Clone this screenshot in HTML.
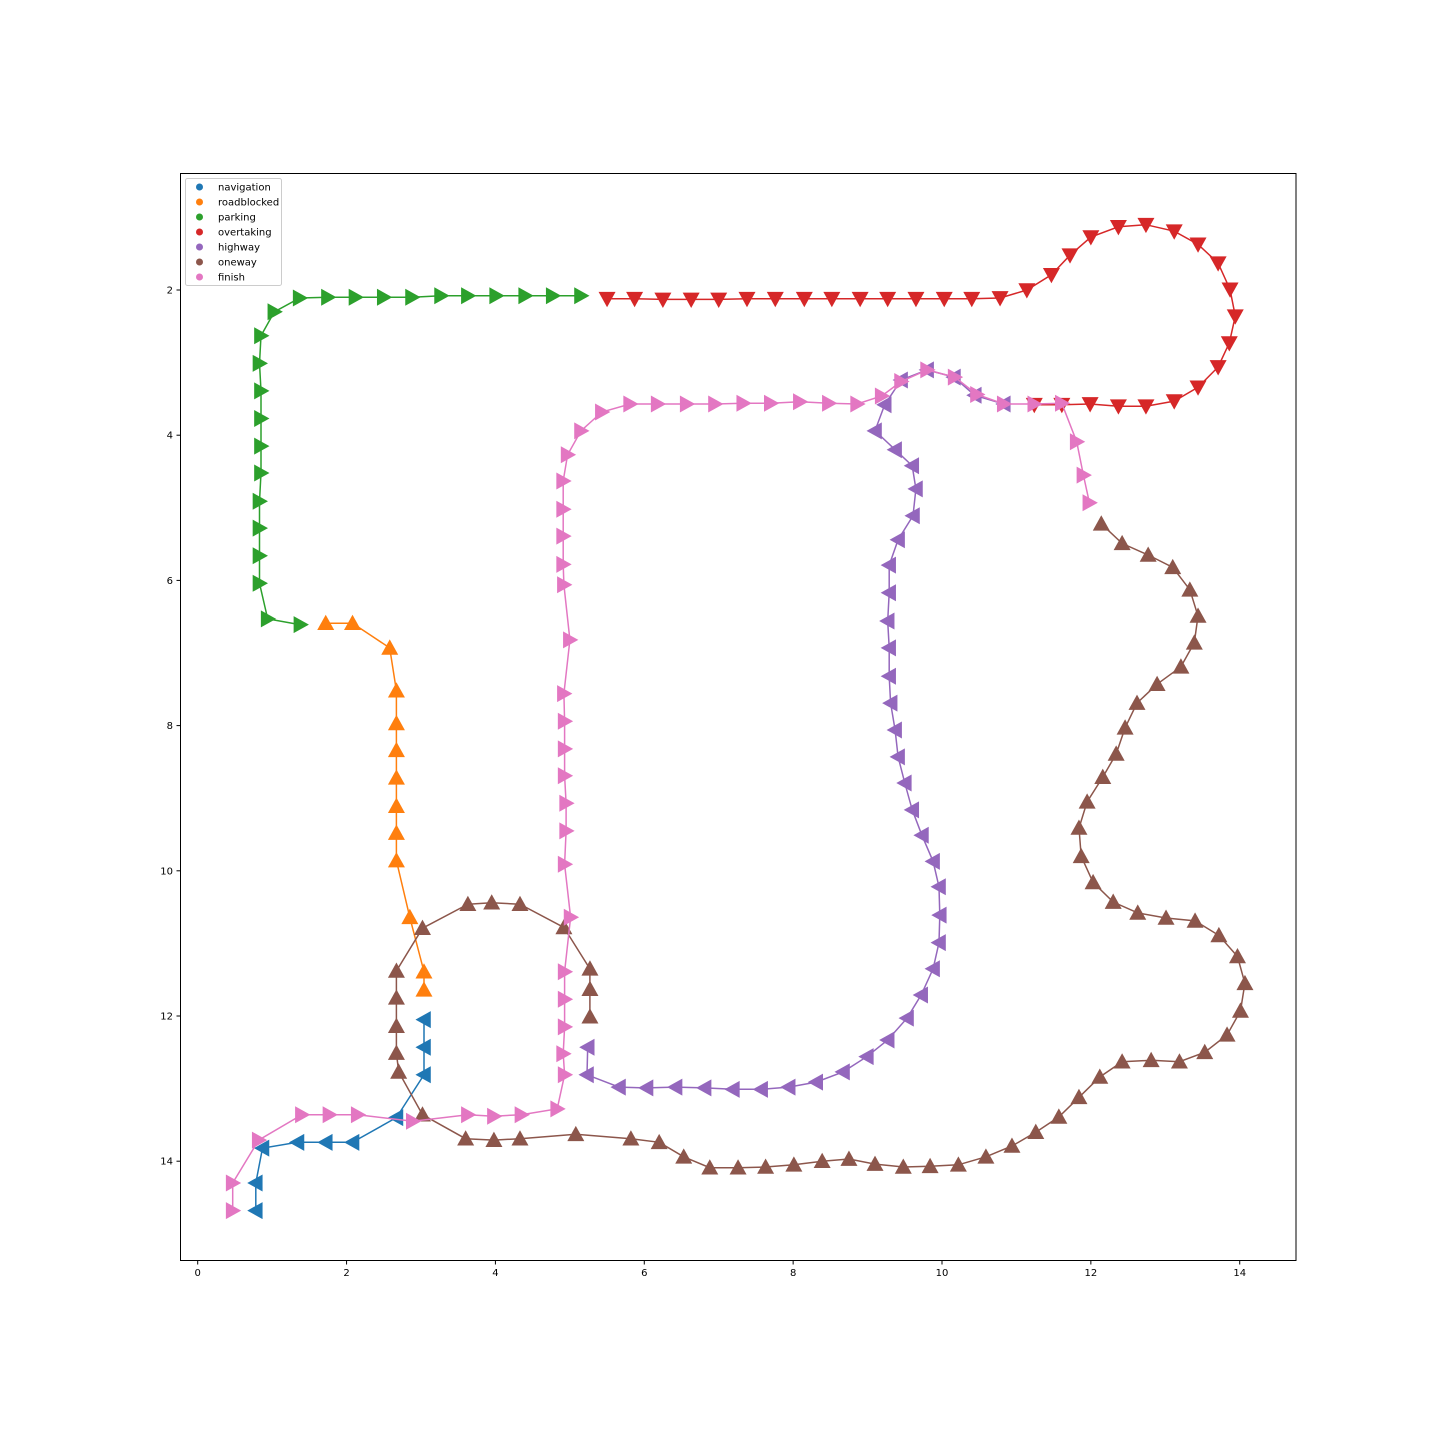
<!DOCTYPE html>
<html><head><meta charset="utf-8"><style>
html,body{margin:0;padding:0;background:#fff;width:1440px;height:1440px;overflow:hidden}
svg{display:block}
text{font-family:"DejaVu Sans","Liberation Sans",sans-serif;font-size:10px;fill:#000}
</style></head><body>
<svg id="chart" width="1440" height="1440" xmlns="http://www.w3.org/2000/svg">
<rect x="0" y="0" width="1440" height="1440" fill="#fff"/>
<g id="series"></g>
<rect x="180.5" y="173.5" width="1115.5" height="1087" fill="none" stroke="#000" stroke-width="1"/>
<g id="axes"></g>
<g id="legend"></g>
</svg>
<script>
const seriesNames = ["navigation","roadblocked","parking","overtaking","highway","oneway","finish"];
const seriesColors = ["#1f77b4","#ff7f0e","#2ca02c","#d62728","#9467bd","#8c564b","#e377c2"];
const seriesMarkers = ["<","^",">","v","<","^",">"];
const navX = [3.04,3.04,3.04,2.67,2.08,1.72,1.34,0.87,0.78,0.78];
const navY = [12.05,12.43,12.81,13.40,13.74,13.74,13.74,13.82,14.30,14.68];
const roadX = [1.72,2.08,2.58,2.67,2.67,2.67,2.67,2.67,2.67,2.67,2.85,3.04,3.04];
const roadY = [6.59,6.59,6.93,7.52,7.97,8.34,8.72,9.11,9.48,9.86,10.64,11.39,11.64];
const parkX = [1.38,0.94,0.83,0.83,0.83,0.83,0.85,0.85,0.85,0.85,0.83,0.85,1.03,1.37,1.75,2.12,2.50,2.88,3.27,3.63,4.01,4.40,4.77,5.15];
const parkY = [6.61,6.53,6.04,5.66,5.28,4.91,4.52,4.15,3.77,3.39,3.01,2.63,2.30,2.11,2.10,2.10,2.10,2.10,2.08,2.08,2.08,2.08,2.08,2.08];
const overX = [5.50,5.87,6.25,6.63,7.00,7.38,7.76,8.15,8.52,8.90,9.27,9.65,10.03,10.40,10.78,11.14,11.47,11.72,12.00,12.37,12.74,13.12,13.44,13.71,13.87,13.94,13.86,13.71,13.44,13.12,12.74,12.37,11.99,11.61,11.24];
const overY = [2.12,2.12,2.13,2.13,2.13,2.12,2.12,2.12,2.12,2.12,2.12,2.12,2.12,2.12,2.11,2.00,1.79,1.52,1.27,1.13,1.10,1.19,1.37,1.63,1.99,2.36,2.73,3.06,3.34,3.53,3.60,3.60,3.57,3.58,3.58];
const hwX = [10.83,10.44,10.16,9.80,9.45,9.23,9.10,9.37,9.60,9.65,9.61,9.41,9.29,9.29,9.27,9.29,9.29,9.31,9.37,9.41,9.50,9.60,9.73,9.88,9.96,9.97,9.96,9.88,9.72,9.53,9.27,8.99,8.67,8.31,7.94,7.57,7.19,6.81,6.42,6.03,5.66,5.23,5.24];
const hwY = [3.57,3.45,3.20,3.10,3.24,3.58,3.94,4.20,4.42,4.74,5.11,5.44,5.79,6.17,6.56,6.93,7.32,7.69,8.06,8.43,8.79,9.16,9.51,9.87,10.22,10.61,10.99,11.35,11.71,12.03,12.33,12.56,12.77,12.91,12.98,13.01,13.01,12.99,12.98,12.99,12.98,12.81,12.43];
const owX = [5.27,5.27,5.27,4.92,4.33,3.95,3.63,3.02,2.67,2.67,2.67,2.67,2.70,3.02,3.60,3.98,4.33,5.08,5.82,6.20,6.53,6.88,7.26,7.63,8.01,8.39,8.75,9.10,9.48,9.84,10.22,10.59,10.94,11.26,11.57,11.84,12.12,12.42,12.81,13.19,13.53,13.83,14.01,14.07,13.97,13.72,13.40,13.01,12.63,12.30,12.03,11.87,11.84,11.95,12.16,12.34,12.46,12.62,12.89,13.21,13.39,13.44,13.33,13.10,12.77,12.42,12.14];
const owY = [12.01,11.63,11.35,10.78,10.46,10.44,10.46,10.79,11.38,11.75,12.14,12.51,12.77,13.36,13.69,13.71,13.69,13.63,13.69,13.74,13.94,14.09,14.09,14.08,14.05,14.00,13.97,14.04,14.08,14.07,14.05,13.94,13.79,13.60,13.39,13.12,12.84,12.63,12.61,12.63,12.50,12.26,11.93,11.55,11.18,10.89,10.69,10.65,10.58,10.43,10.16,9.80,9.41,9.05,8.71,8.39,8.03,7.69,7.43,7.19,6.86,6.49,6.13,5.82,5.65,5.49,5.22];
const finX = [11.98,11.90,11.81,11.61,11.24,10.83,10.47,10.17,9.80,9.45,9.19,8.86,8.48,8.09,7.70,7.33,6.95,6.57,6.18,5.81,5.43,5.15,4.97,4.91,4.91,4.91,4.91,4.92,5.00,4.92,4.93,4.93,4.93,4.95,4.95,4.93,5.01,4.93,4.93,4.93,4.91,4.93,4.83,4.35,3.98,3.63,2.89,2.15,1.77,1.40,0.82,0.47,0.47];
const finY = [4.93,4.55,4.09,3.56,3.57,3.57,3.44,3.20,3.10,3.26,3.46,3.57,3.56,3.54,3.56,3.56,3.57,3.57,3.57,3.57,3.68,3.94,4.27,4.63,5.02,5.39,5.78,6.06,6.82,7.56,7.94,8.32,8.69,9.07,9.45,9.91,10.64,11.39,11.77,12.15,12.52,12.81,13.28,13.36,13.38,13.36,13.45,13.36,13.36,13.36,13.71,14.30,14.68];
const seriesX = [navX,roadX,parkX,overX,hwX,owX,finX];
const seriesY = [navY,roadY,parkY,overY,hwY,owY,finY];
const xTicks = [0,2,4,6,8,10,12,14];
const yTicks = [2,4,6,8,10,12,14];

const NS="http://www.w3.org/2000/svg";
function sx(v){return 197.7+v*74.43;}
function sy(v){return 144.8+v*72.6;}
function mk(tag,attrs,parent){const e=document.createElementNS(NS,tag);for(const k in attrs)e.setAttribute(k,attrs[k]);parent.appendChild(e);return e;}
function tri(cx,cy,m,s){
  if(m==="^")return `${cx},${cy-s} ${cx-s},${cy+s*0.8} ${cx+s},${cy+s*0.8}`;
  if(m==="v")return `${cx},${cy+s} ${cx-s},${cy-s*0.8} ${cx+s},${cy-s*0.8}`;
  if(m==="<")return `${cx-s},${cy} ${cx+s*0.8},${cy-s} ${cx+s*0.8},${cy+s}`;
  return `${cx+s},${cy} ${cx-s*0.8},${cy-s} ${cx-s*0.8},${cy+s}`;
}
const g=document.getElementById('series');
for(let i=0;i<seriesNames.length;i++){
  const sg=mk('g',{},g);
  
  
  const pts=seriesX[i].map((x,j)=>sx(x).toFixed(1)+','+sy(seriesY[i][j]).toFixed(1)).join(' ');
  const pl=mk('polyline',{points:pts,fill:'none',stroke:seriesColors[i],'stroke-width':1.5},sg);
  
  
  for(let j=0;j<seriesX[i].length;j++){
    const p=mk('polygon',{points:tri(sx(seriesX[i][j]),sy(seriesY[i][j]),seriesMarkers[i],8.5),fill:seriesColors[i]},sg);
    
    
  }
}
const ax=document.getElementById('axes');
xTicks.forEach(t=>{
  const l=mk('line',{x1:sx(t),x2:sx(t),y1:1260.5,y2:1264.5,stroke:'#000'},ax);
  
  
  const tx=mk('text',{x:sx(t),y:1276,'text-anchor':'middle'},ax);tx.textContent=t;
  
  
});
yTicks.forEach(t=>{
  const l=mk('line',{x1:176.5,x2:180.5,y1:sy(t),y2:sy(t),stroke:'#000'},ax);
  
  
  const tx=mk('text',{x:173,y:sy(t)+3.5,'text-anchor':'end'},ax);tx.textContent=t;
  
  
});
const lg=document.getElementById('legend');
const box=mk('rect',{x:185.5,y:178.5,width:96,height:107,rx:2,fill:'#fff','fill-opacity':0.8,stroke:'#ccc'},lg);


seriesNames.forEach((n,i)=>{
  const y=187+i*15;
  const c=mk('circle',{cx:199.5,cy:y,r:3.5,fill:seriesColors[i]},lg);
  
  
  const t=mk('text',{x:218,y:y+3.5},lg);t.textContent=n;
  
  
});
</script>
</body></html>
